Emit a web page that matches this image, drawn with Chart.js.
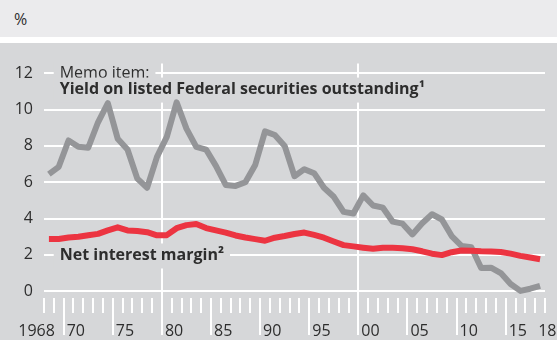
<!DOCTYPE html>
<html lang="en">
<head>
    <meta charset="UTF-8">
    <title>Yield and net interest margin</title>
    <script src="https://cdn.jsdelivr.net/npm/chart.js"></script>
    <style>
        body {
            margin: 0;
            background: #ffffff;
            font-family: "Open Sans", sans-serif;
        }
        #top {
            height: 37px;
            background: #ebebed;
            position: relative;
        }
        #top span {
            position: absolute;
            left: 14px;
            top: 8px;
            font-size: 16px;
            color: #2d2d2d;
        }
        #panel {
            margin-top: 6px;
            width: 557px;
            height: 297px;
            background: #d6d7d9;
        }
        canvas { display: block; }
    </style>
</head>
<body>
    <div id="top"><span>%</span></div>
    <div id="panel"><canvas id="chart" width="557" height="297"></canvas></div>
    <script>
        // annual values, plotted at mid-year
        const years = [1968, 1969, 1970, 1971, 1972, 1973, 1974, 1975, 1976, 1977,
                       1978, 1979, 1980, 1981, 1982, 1983, 1984, 1985, 1986, 1987,
                       1988, 1989, 1990, 1991, 1992, 1993, 1994, 1995, 1996, 1997,
                       1998, 1999, 2000, 2001, 2002, 2003, 2004, 2005, 2006, 2007,
                       2008, 2009, 2010, 2011, 2012, 2013, 2014, 2015, 2016, 2017, 2018];

        const federalYield = [6.45, 6.85, 8.3, 7.95, 7.9, 9.3, 10.35, 8.4, 7.8, 6.2,
                              5.7, 7.4, 8.5, 10.4, 8.95, 7.95, 7.8, 6.9, 5.85, 5.8,
                              6.0, 6.95, 8.8, 8.6, 8.0, 6.33, 6.72, 6.5, 5.7, 5.2,
                              4.37, 4.28, 5.28, 4.72, 4.6, 3.83, 3.72, 3.13, 3.74, 4.24,
                              3.95, 3.04, 2.5, 2.42, 1.28, 1.3, 1.0, 0.4, 0.02, 0.14, 0.3];

        const netInterestMargin = [2.88, 2.88, 2.96, 3.0, 3.08, 3.16, 3.35, 3.52, 3.35, 3.32,
                                   3.25, 3.08, 3.09, 3.47, 3.64, 3.7, 3.48, 3.35, 3.23, 3.07,
                                   2.96, 2.87, 2.78, 2.95, 3.04, 3.15, 3.23, 3.1, 2.95, 2.74,
                                   2.54, 2.47, 2.4, 2.34, 2.4, 2.39, 2.37, 2.31, 2.2, 2.07,
                                   1.99, 2.15, 2.24, 2.23, 2.2, 2.19, 2.16, 2.07, 1.95, 1.86, 1.76];

        const xLabelYears = [1968, 1970, 1975, 1980, 1985, 1990, 1995, 2000, 2005, 2010, 2015, 2018];
        const xLabelTexts = ['1968', '70', '75', '80', '85', '90', '95', '00', '05', '10', '15', '18'];
        const yTicks = [0, 2, 4, 6, 8, 10, 12];
        const yearLines = [1980, 2000];

        const notes = [
            { text: 'Memo item:', x: 1969.6, y: 12, bold: false },
            { text: 'Yield on listed Federal securities outstanding\u00b9', x: 1969.6, y: 11.1, bold: true },
            { text: 'Net interest margin\u00b2', x: 1969.6, y: 1.97, bold: true }
        ];

        const PANEL = '#d6d7d9';
        const TEXT = '#2d2d2d';
        const FONT = '"Open Sans", sans-serif';
        const TICK_LEN = 37;
        const LABEL_PAD = -13;

        Chart.defaults.font.family = FONT;
        Chart.defaults.font.size = 16;
        Chart.defaults.color = TEXT;

        // text labels in the panel and the first year label, placed through the scales
        const notesPlugin = {
            id: 'notes',
            beforeDatasetsDraw(chart) {
                const ctx = chart.ctx;
                const xs = chart.scales.x;
                const ys = chart.scales.y;
                ctx.save();
                notes.forEach(n => {
                    ctx.font = (n.bold ? 'bold ' : '') + '16px ' + FONT;
                    const px = xs.getPixelForValue(n.x);
                    const py = ys.getPixelForValue(n.y);
                    const w = ctx.measureText(n.text).width;
                    ctx.fillStyle = PANEL;
                    ctx.fillRect(px - 6, py - 12, w + 12, 25);
                    ctx.fillStyle = TEXT;
                    ctx.textBaseline = 'middle';
                    ctx.textAlign = 'left';
                    ctx.fillText(n.text, px, py);
                });
                // "1968" sits left of its tick, ending at the next one
                ctx.font = '16px ' + FONT;
                ctx.fillStyle = TEXT;
                ctx.textAlign = 'right';
                ctx.textBaseline = 'middle';
                ctx.fillText(xLabelTexts[0], xs.getPixelForValue(xLabelYears[0] + 1) + 1,
                             xs.top + TICK_LEN + LABEL_PAD + 9.6);
                ctx.restore();
            }
        };

        const ctx = document.getElementById('chart').getContext('2d');
        new Chart(ctx, {
            type: 'line',
            data: {
                datasets: [
                    {
                        label: 'Net interest margin',
                        data: years.map((y, i) => ({ x: y + 0.5, y: netInterestMargin[i] })),
                        borderColor: '#ec3441',
                        borderWidth: 6,
                        pointRadius: 0,
                        borderJoinStyle: 'round',
                        tension: 0
                    },
                    {
                        label: 'Yield on listed Federal securities outstanding',
                        data: years.map((y, i) => ({ x: y + 0.5, y: federalYield[i] })),
                        borderColor: '#949598',
                        borderWidth: 6,
                        pointRadius: 0,
                        borderJoinStyle: 'round',
                        tension: 0
                    }
                ]
            },
            options: {
                responsive: false,
                animation: false,
                layout: { padding: { top: 12, right: 12, left: 0, bottom: 0 } },
                plugins: {
                    legend: { display: false },
                    tooltip: { enabled: false }
                },
                scales: {
                    x: {
                        type: 'linear',
                        min: 1968,
                        max: 2019,
                        afterBuildTicks: s => {
                            const t = [];
                            for (let v = s.min; v <= s.max; v++) t.push({ value: v });
                            s.ticks = t;
                        },
                        afterFit: s => { s.height = 42; },
                        border: { display: false },
                        grid: {
                            color: c => yearLines.includes(c.tick && c.tick.value) ? '#ffffff' : 'rgba(0,0,0,0)',
                            lineWidth: 2,
                            tickColor: '#ffffff',
                            tickWidth: 2,
                            tickLength: TICK_LEN,
                            tickBorderDash: c => (c.tick && c.tick.value % 5 === 0) ? [] : [15, 60]
                        },
                        ticks: {
                            autoSkip: false,
                            maxRotation: 0,
                            minRotation: 0,
                            align: 'start',
                            labelOffset: 3,
                            padding: LABEL_PAD,
                            callback: v => {
                                const i = xLabelYears.indexOf(v);
                                return i > 0 ? xLabelTexts[i] : '';
                            }
                        }
                    },
                    y: {
                        min: -0.37,
                        max: 12.53,
                        afterBuildTicks: s => { s.ticks = yTicks.map(v => ({ value: v })); },
                        afterFit: s => { s.width = 44; },
                        border: { display: false },
                        grid: {
                            color: '#ffffff',
                            lineWidth: 2,
                            drawTicks: false
                        },
                        ticks: {
                            padding: 11,
                            callback: v => String(v)
                        }
                    }
                }
            },
            plugins: [notesPlugin]
        });
    </script>
</body>
</html>
